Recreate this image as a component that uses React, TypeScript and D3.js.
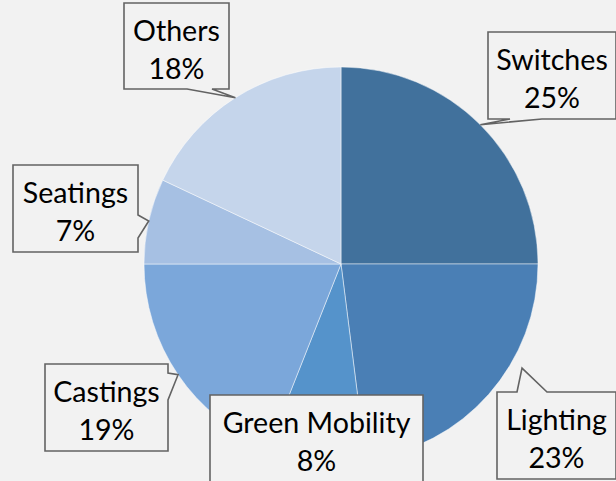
import React, { useEffect, useRef } from 'react'
import * as d3 from 'd3'

// data
const categories = ['Switches', 'Lighting', 'Green Mobility', 'Castings', 'Seatings', 'Others']
const shares = [25, 23, 8, 19, 7, 18]
const colors = ['#41719c', '#4a7fb5', '#5593cb', '#7ba7da', '#a6c0e3', '#c5d5eb']

// callout boxes: box + where the tail leaves the box (side, two base offsets)
// tipAdj nudges the tail tip away from the slice middle where the box was dragged
const callouts = [
    { x: 488, y: 32, w: 128, h: 87, side: 'bottom', b1: 54, b2: 22, tipAdj: 0, tipR: 1 },
    { x: 497, y: 392, w: 119, h: 87, side: 'top', b1: 20, b2: 50, tipAdj: -11.5, tipR: 1.06 },
    { x: 210, y: 395, w: 213, h: 87, side: 'none', b1: 0, b2: 0, tipAdj: 0, tipR: 1 },
    { x: 45, y: 364, w: 123, h: 87, side: 'right', b1: 9, b2: 36, tipAdj: 0, tipR: 1 },
    { x: 13, y: 165, w: 125, h: 87, side: 'right', b1: 50, b2: 73, tipAdj: 0, tipR: 1 },
    { x: 124, y: 3, w: 105, h: 86, side: 'bottom', b1: 88, b2: 63, tipAdj: 0, tipR: 1 },
]

const W = 616, H = 481

const App = () => {
    const ref = useRef(null)

    useEffect(() => {
        const svg = d3.select(ref.current)
        svg.selectAll('*').remove()

        svg.append('rect').attr('width', W).attr('height', H).attr('fill', '#f2f2f2')

        const cx = 341, cy = 264, r = 197

        const pie = d3.pie().sort(null).value(function (d) { return d })
        const arcs = pie(shares)
        const arc = d3.arc().innerRadius(0).outerRadius(r)

        const g = svg.append('g').attr('transform', 'translate(' + cx + ',' + cy + ')')

        g.selectAll('path')
            .data(arcs)
            .enter()
            .append('path')
            .attr('d', arc)
            .attr('fill', function (d, i) { return colors[i] })
            .attr('stroke', '#ffffff')
            .attr('stroke-opacity', 0.6)
            .attr('stroke-width', 0.8)

        // callout label boxes
        arcs.forEach(function (a, i) {
            const c = callouts[i]
            const mid = (a.startAngle + a.endAngle) / 2 + c.tipAdj * Math.PI / 180
            const tx = cx + Math.sin(mid) * r * c.tipR
            const ty = cy - Math.cos(mid) * r * c.tipR
            const x0 = c.x, y0 = c.y, x1 = c.x + c.w, y1 = c.y + c.h

            let pts
            if (c.side === 'bottom') {
                const hi = Math.max(c.b1, c.b2), lo = Math.min(c.b1, c.b2)
                pts = [[x0, y0], [x1, y0], [x1, y1], [x0 + hi, y1], [tx, ty], [x0 + lo, y1], [x0, y1]]
            } else if (c.side === 'top') {
                pts = [[x0, y0], [x0 + c.b1, y0], [tx, ty], [x0 + c.b2, y0], [x1, y0], [x1, y1], [x0, y1]]
            } else if (c.side === 'right') {
                pts = [[x0, y0], [x1, y0], [x1, y0 + c.b1], [tx, ty], [x1, y0 + c.b2], [x1, y1], [x0, y1]]
            } else {
                pts = [[x0, y0], [x1, y0], [x1, y1], [x0, y1]]
            }

            svg.append('path')
                .attr('d', d3.line()(pts) + 'Z')
                .attr('fill', '#f2f2f2')
                .attr('stroke', '#636363')
                .attr('stroke-width', 1.6)
                .attr('stroke-linejoin', 'miter')

            const t = svg.append('text')
                .attr('text-anchor', 'middle')
                .attr('font-family', 'Lato, "Open Sans", sans-serif')
                .attr('font-size', '28.6px')
                .attr('fill', '#000')
            t.append('tspan')
                .attr('x', c.x + c.w / 2)
                .attr('y', c.y + 38)
                .text(categories[i])
            t.append('tspan')
                .attr('x', c.x + c.w / 2)
                .attr('y', c.y + 76)
                .text(shares[i] + '%')
        })
    }, [])

    return (
        <svg ref={ref} width={W} height={H}
            style={{ position: 'absolute', left: 0, top: 0, display: 'block' }}></svg>
    )
}

export default App
